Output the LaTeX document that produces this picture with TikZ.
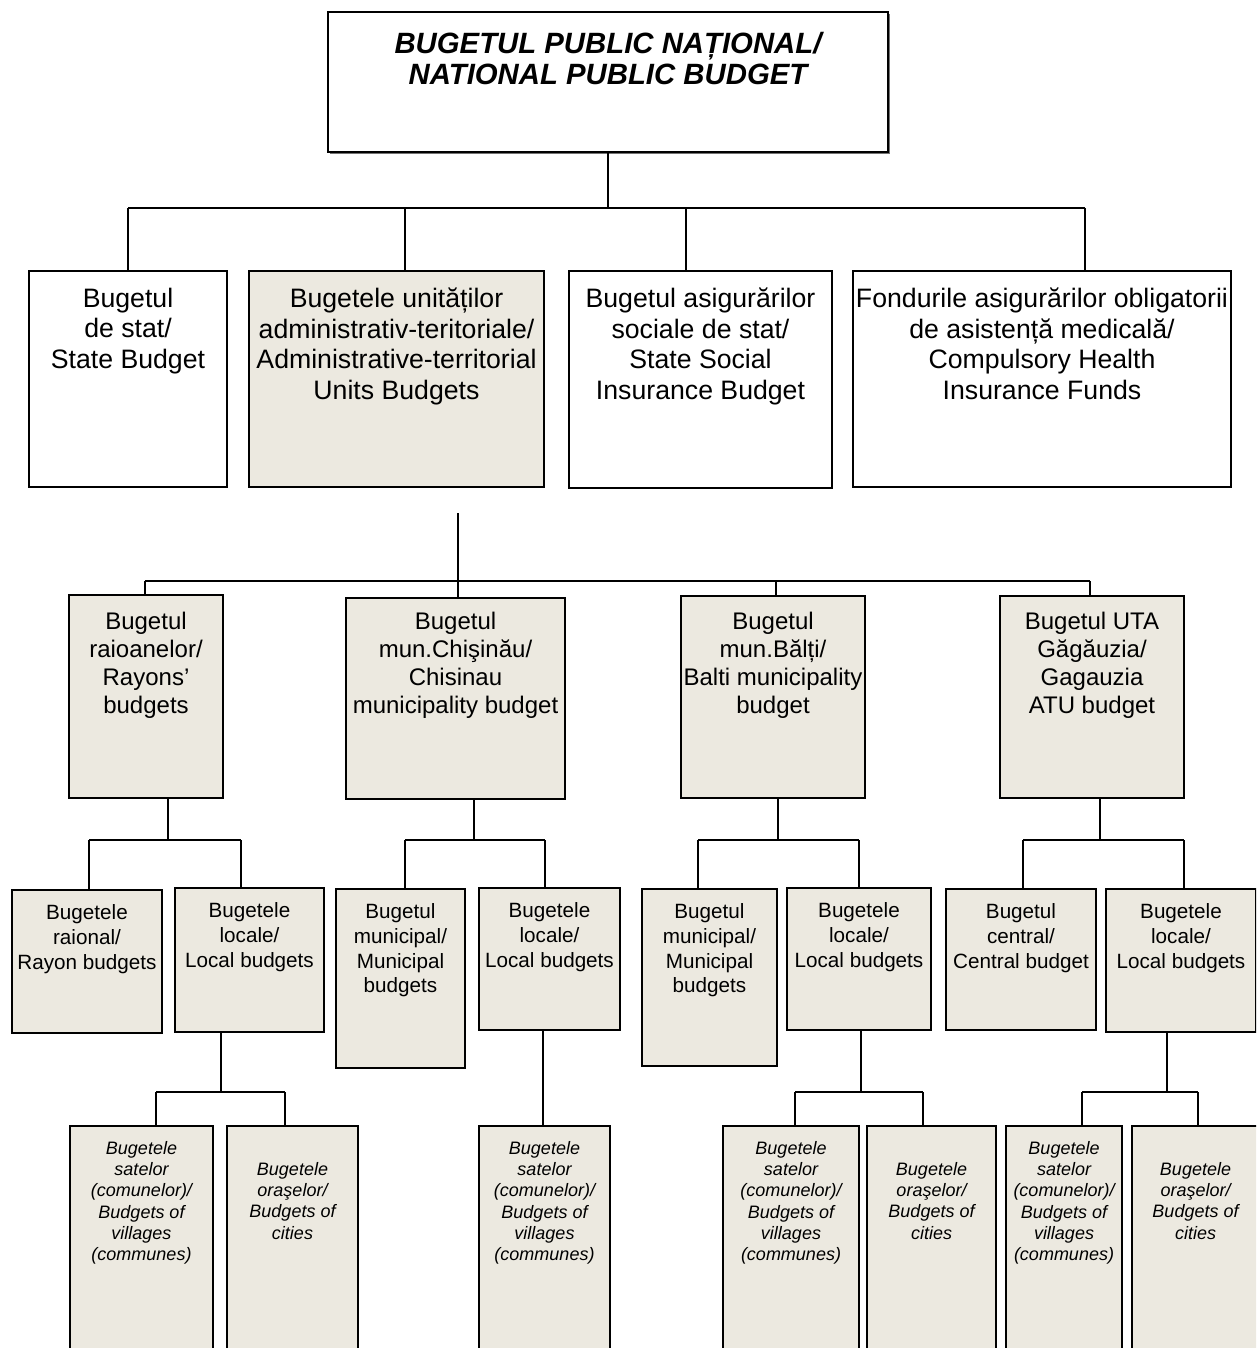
\documentclass[tikz,border=0pt]{standalone}
\usepackage{fontspec}
\setmainfont{Liberation Sans}
\usetikzlibrary{shadows}

\definecolor{beige}{RGB}{236,233,224}
\newlength{\pxl}
\setlength{\pxl}{0.75pt}
% text hung from the top of a box: width, height, top gap, text
\newcommand{\intext}[4]{\parbox[c][#2\pxl][t]{#1\pxl}{\centering\vspace*{#3\pxl}#4}}

\tikzset{
    box/.style={draw, line width=1.5pt, inner sep=0pt, anchor=north west, fill=white},
    shaded/.style={box, fill=beige},
    conn/.style={line width=1.1pt},
    lvltop/.style={font=\fontsize{22}{23.3}\selectfont\bfseries\itshape},
    lvlone/.style={font=\fontsize{20}{23}\selectfont},
    lvltwo/.style={shaded, font=\fontsize{18}{21}\selectfont},
    lvlthree/.style={shaded, font=\fontsize{15.5}{18.4}\selectfont},
    lvlfour/.style={shaded, font=\fontsize{13.5}{16}\selectfont\itshape},
}

\begin{document}
\begin{tikzpicture}[x=0.75pt, y=-0.75pt]

    \useasboundingbox (0,0) rectangle (1256,1348);
    \clip (0,0) rectangle (1256,1348);

    % National public budget
    \node[box, lvltop, drop shadow={shadow xshift=1.8pt, shadow yshift=-1.8pt, fill=black!55, opacity=1}] (npb) at (327,11)
        {\intext{560}{140}{20}{BUGETUL PUBLIC NAȚIONAL/\\NATIONAL PUBLIC BUDGET}};

    % First level
    \node[box, lvlone] (stat) at (28,270)
        {\intext{198}{216}{17}{Bugetul\\de stat/\\State Budget}};
    \node[box, lvlone, fill=beige] (atu) at (248,270)
        {\intext{295}{216}{17}{Bugetele unităților\\administrativ-teritoriale/\\Administrative-territorial\\Units Budgets}};
    \node[box, lvlone] (social) at (568,270)
        {\intext{263}{217}{17}{Bugetul asigurărilor\\sociale de stat/\\State Social\\Insurance Budget}};
    \node[box, lvlone] (health) at (852,270)
        {\intext{378}{216}{17}{Fondurile asigurărilor obligatorii\\de asistență medicală/\\Compulsory Health\\Insurance Funds}};

    % Second level
    \node[lvltwo] (rayons) at (68,594)
        {\intext{154}{203}{17}{Bugetul\\raioanelor/\\Rayons’\\budgets}};
    \node[lvltwo] (chisinau) at (345,597)
        {\intext{219}{201}{14}{Bugetul\\mun.Chişinău/\\Chisinau\\municipality budget}};
    \node[lvltwo] (balti) at (680,595)
        {\intext{184}{202}{16}{Bugetul\\mun.Bălți/\\Balti municipality\\budget}};
    \node[lvltwo] (gagauz) at (999,595)
        {\intext{184}{202}{16}{Bugetul UTA\\Găgăuzia/\\Gagauzia\\ATU budget}};

    % Third level
    \node[lvlthree] (rayonal) at (11,889)
        {\intext{150}{143}{15}{Bugetele\\raional/\\Rayon budgets}};
    \node[lvlthree] (rlocal) at (174,887)
        {\intext{149}{144}{15}{Bugetele\\locale/\\Local budgets}};
    \node[lvlthree] (chmun) at (335,888)
        {\intext{129}{179}{15}{Bugetul\\municipal/\\Municipal\\budgets}};
    \node[lvlthree] (chlocal) at (478,887)
        {\intext{141}{142}{15}{Bugetele\\locale/\\Local budgets}};
    \node[lvlthree] (bamun) at (641,888)
        {\intext{135}{177}{15}{Bugetul\\municipal/\\Municipal\\budgets}};
    \node[lvlthree] (balocal) at (786,887)
        {\intext{144}{142}{15}{Bugetele\\locale/\\Local budgets}};
    \node[lvlthree] (central) at (945,888)
        {\intext{150}{141}{15}{Bugetul\\central/\\Central budget}};
    \node[lvlthree] (glocal) at (1105,888)
        {\intext{150}{143}{15}{Bugetele\\locale/\\Local budgets}};

    % Fourth level
    \node[lvlfour] (rvill) at (69,1125)
        {\intext{143}{240}{15}{Bugetele\\satelor\\(comunelor)/\\Budgets of\\villages\\(communes)}};
    \node[lvlfour] (rcity) at (226,1125)
        {\intext{131}{240}{36}{Bugetele\\oraşelor/\\Budgets of\\cities}};
    \node[lvlfour] (chvill) at (478,1125)
        {\intext{131}{240}{15}{Bugetele\\satelor\\(comunelor)/\\Budgets of\\villages\\(communes)}};
    \node[lvlfour] (bavill) at (722,1125)
        {\intext{136}{240}{15}{Bugetele\\satelor\\(comunelor)/\\Budgets of\\villages\\(communes)}};
    \node[lvlfour] (bacity) at (866,1125)
        {\intext{129}{240}{36}{Bugetele\\oraşelor/\\Budgets of\\cities}};
    \node[lvlfour] (gvill) at (1005,1125)
        {\intext{116}{240}{15}{Bugetele\\satelor\\(comunelor)/\\Budgets of\\villages\\(communes)}};
    \node[lvlfour] (gcity) at (1131,1125)
        {\intext{127}{240}{36}{Bugetele\\oraşelor/\\Budgets of\\cities}};

    % Connectors to the first level
    \coordinate (t1) at (128,208);
    \coordinate (t2) at (405,208);
    \coordinate (t3) at (686,208);
    \coordinate (t4) at (1085,208);
    \draw[conn] (npb.south) -- (npb.south |- t1);
    \draw[conn] (t1) -- (t4);
    \foreach \c/\n in {t1/stat, t2/atu, t3/social, t4/health}
        \draw[conn] (\c) -- (\c |- \n.north);

    % Connectors to the second level
    \coordinate (u0) at (458,513);
    \coordinate (u1) at (145,581);
    \coordinate (u2) at (458,581);
    \coordinate (u3) at (776,581);
    \coordinate (u4) at (1090,581);
    \draw[conn] (u0) -- (u2);
    \draw[conn] (u1) -- (u4);
    \foreach \c/\n in {u1/rayons, u2/chisinau, u3/balti, u4/gagauz}
        \draw[conn] (\c) -- (\c |- \n.north);

    % Connectors to the third and fourth levels
    \foreach \up/\ux/\dl/\lx/\dr/\rx/\yy in {rayons/168/rayonal/89/rlocal/241/840,
            chisinau/474/chmun/405/chlocal/545/840, balti/778/bamun/698/balocal/859/840,
            gagauz/1100/central/1023/glocal/1184/840, rlocal/221/rvill/156/rcity/285/1092,
            balocal/861/bavill/795/bacity/923/1092, glocal/1167/gvill/1082/gcity/1198/1092}
    {
        \draw[conn] (\ux,\yy |- \up.south) -- (\ux,\yy);
        \draw[conn] (\lx,\yy) -- (\rx,\yy);
        \draw[conn] (\lx,\yy) -- (\lx,\yy |- \dl.north);
        \draw[conn] (\rx,\yy) -- (\rx,\yy |- \dr.north);
    }
    \coordinate (v1) at (543,1060);
    \draw[conn] (v1 |- chlocal.south) -- (v1 |- chvill.north);

\end{tikzpicture}
\end{document}
